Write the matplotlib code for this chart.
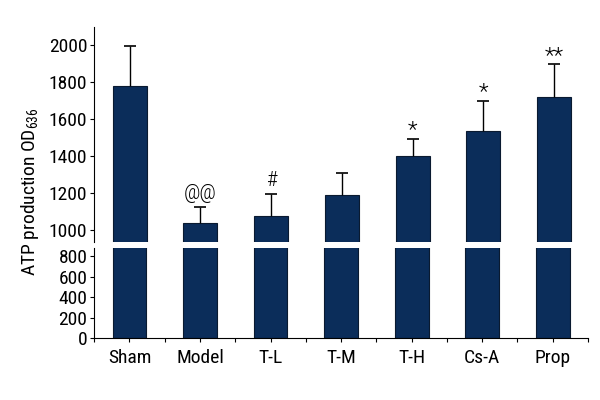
import matplotlib
matplotlib.use('Agg')
import matplotlib.pyplot as plt
import numpy as np

plt.rcParams['font.family'] = ['Roboto Condensed', 'Roboto', 'DejaVu Sans']

groups = ['Sham', 'Model', 'T-L', 'T-M', 'T-H', 'Cs-A', 'Prop']
means = [1780, 1043, 1079, 1189, 1403, 1539, 1720]
errors = [215, 85, 117, 121, 93, 162, 179]
marks = ['', '@@', '#', '', '*', '*', '**']

bar_color = '#0b2d5a'
x = np.arange(len(groups))

fig = plt.figure(figsize=(6, 4), dpi=100)
ax_top = fig.add_axes([0.157, 0.396, 0.823, 0.537])
ax_bot = fig.add_axes([0.157, 0.155, 0.823, 0.224])

for ax in (ax_top, ax_bot):
    ax.bar(x, means, width=0.48, color=bar_color, edgecolor='#0a1a30', linewidth=0.8, zorder=2)
    ax.spines['right'].set_visible(False)
    ax.set_xlim(-0.5, 6.48)
    ax.tick_params(axis='y', labelsize=14, length=3, width=0.8, pad=2)
    ax.spines['left'].set_linewidth(0.8)

eb = ax_top.errorbar(x, means, yerr=[np.zeros(len(x)), errors], fmt='none',
                     ecolor='black', elinewidth=1, capsize=4, capthick=1.2, zorder=3)
eb[1][0].set_visible(False)  # no cap on the bar top

for xi, m, e, s in zip(x, means, errors, marks):
    if s:
        off = -2 if '*' in s else 3
        size = 16 if '*' in s else 15
        ax_top.annotate(s, (xi, m + e), xytext=(0, off), textcoords='offset points',
                        ha='center', va='bottom', fontsize=size, fontweight='light')

ax_top.set_ylim(940, 2100)
ax_top.set_yticks([1000, 1200, 1400, 1600, 1800, 2000])
ax_top.spines['top'].set_visible(False)
ax_top.spines['bottom'].set_visible(False)
ax_top.set_xticks([])

ax_bot.set_ylim(0, 875)
ax_bot.set_yticks([0, 200, 400, 600, 800])
ax_bot.spines['top'].set_visible(False)
ax_bot.spines['bottom'].set_linewidth(0.8)
ax_bot.set_xticks(x)
ax_bot.set_xticklabels(groups, fontsize=14)
ax_bot.set_xticks(np.arange(-0.5, 6.6, 1.0), minor=True)
ax_bot.tick_params(axis='x', which='both', length=3, width=0.8, pad=5)

fig.text(0.05, 0.52, r'ATP production OD$_{\mathregular{636}}$', rotation=90,
         ha='center', va='center', fontsize=14)

fig.savefig('out.png', dpi=100)
